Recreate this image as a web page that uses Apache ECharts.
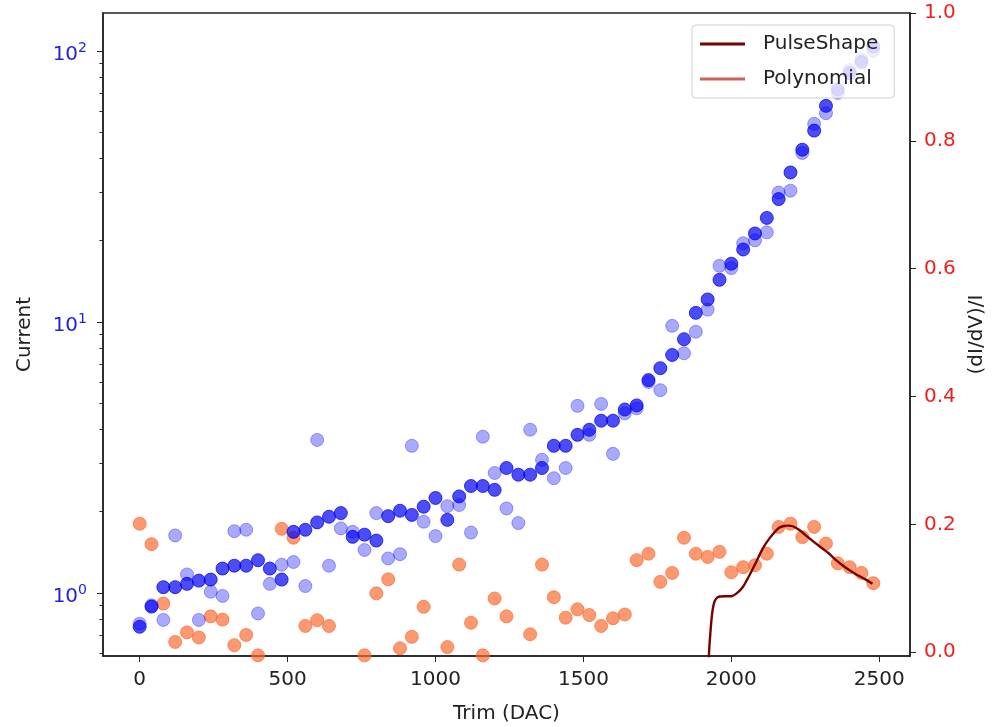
<!DOCTYPE html>
<html>
<head>
<meta charset="utf-8">
<title>Trim scan</title>
<script src="https://cdn.jsdelivr.net/npm/echarts@6.0.0/dist/echarts.min.js"></script>
<style>
  html, body { margin: 0; padding: 0; background: #fff; }
  #chart { width: 1000px; height: 727px; }
</style>
</head>
<body>
<div id="chart"></div>
<script>
// trim DAC settings of the scan
const trim = [0, 40, 80, 120, 160, 200, 240, 280, 320, 360, 400, 440, 480, 520, 560, 600,
  640, 680, 720, 760, 800, 840, 880, 920, 960, 1000, 1040, 1080, 1120, 1160, 1200, 1240,
  1280, 1320, 1360, 1400, 1440, 1480, 1520, 1560, 1600, 1640, 1680, 1720, 1760, 1800, 1840,
  1880, 1920, 1960, 2000, 2040, 2080, 2120, 2160, 2200, 2240, 2280, 2320, 2360, 2400, 2440, 2480];

// current, solid points
const currentMain = [0.75, 0.89, 1.05, 1.05, 1.08, 1.11, 1.12, 1.23, 1.26, 1.26, 1.32, 1.23, 1.12, 1.68, 1.71, 1.82,
  1.91, 1.97, 1.61, 1.64, 1.56, 1.92, 2.01, 1.94, 2.08, 2.24, 1.86, 2.27, 2.48, 2.48, 2.40, 2.89,
  2.73, 2.73, 2.89, 3.49, 3.49, 3.83, 4.0, 4.32, 4.32, 4.75, 4.92, 6.1, 6.75, 7.55, 8.63,
  10.8, 12.1, 14.3, 16.4, 18.5, 21.2, 24.2, 28.4, 35.6, 43.2, 50.8, 62.7, 72, 82.8, 91, 104];

// current, faint points
const currentAlt = [0.77, 0.9, 0.795, 1.63, 1.17, 0.795, 1.01, 0.975, 1.69, 1.71, 0.84, 1.08, 1.27, 1.30, 1.06, 3.67,
  1.26, 1.73, 1.68, 1.44, 1.97, 1.34, 1.39, 3.49, 1.83, 1.62, 2.09, 2.11, 1.67, 3.77, 2.77, 2.05,
  1.81, 4.0, 3.10, 2.65, 2.89, 4.9, 3.83, 4.98, 3.26, 4.6, 4.8, 6.0, 5.6, 9.67, 7.66,
  9.2, 11.1, 16.1, 15.8, 19.5, 20.0, 21.4, 30, 30.5, 42, 53.8, 58.9, 70, 85, 93, 100];

// (dI/dV)/I, null where the point is below the plot
const ratio = [0.201, 0.169, 0.076, 0.016, 0.031, 0.023, 0.056, 0.051, 0.011, 0.027, -0.005, null, 0.193, 0.179, 0.041, 0.05,
  0.041, null, null, -0.005, 0.092, 0.114, 0.006, 0.024, 0.071, null, 0.008, 0.137, 0.046, -0.005, 0.084, 0.056,
  null, 0.028, 0.137, 0.086, 0.054, 0.067, 0.058, 0.041, 0.053, 0.059, 0.144, 0.154, 0.11, 0.124, 0.179,
  0.154, 0.149, 0.157, 0.125, 0.133, 0.136, 0.154, 0.196, 0.201, 0.18, 0.196, 0.17, 0.139, 0.133, 0.124, 0.108];

// PulseShape curve
const pulseTrim = [1921, 1924, 1929, 1935, 1943, 1954, 1977, 1999, 2018, 2039, 2061, 2084, 2106, 2129, 2157,
  2174, 2191, 2208, 2230, 2264, 2297, 2331, 2354, 2387, 2421, 2455, 2477];
const pulseVal = [-0.06, -0.007, 0.029, 0.060, 0.079, 0.086, 0.0875, 0.0875, 0.092, 0.102, 0.120, 0.141, 0.162, 0.178, 0.193,
  0.197, 0.198, 0.197, 0.191, 0.178, 0.166, 0.154, 0.144, 0.132, 0.122, 0.1135, 0.107];

// Polynomial curve (only in the legend)
const polyTrim = [];
const polyVal = [];

// tick labels
const xTicks = [0, 500, 1000, 1500, 2000, 2500];
const leftTicks = [1, 10, 100];
const leftMinor = [0.6, 0.7, 0.8, 0.9, 2, 3, 4, 5, 6, 7, 8, 9, 20, 30, 40, 50, 60, 70, 80, 90];
const rightTicks = [0, 0.2, 0.4, 0.6, 0.8, 1.0];

const FONT = 'DejaVu Sans';
const AXIS = '#222';

function pairs(xs, ys) {
  const out = [];
  xs.forEach((x, i) => {
    if (ys[i] !== null) out.push([x, ys[i]]);
  });
  return out;
}

const chart = echarts.init(document.getElementById('chart'));

chart.setOption({
  animation: false,
  backgroundColor: '#fff',
  grid: {
    left: 103, right: 90, top: 13, bottom: 71,
    outerBoundsMode: 'none',
    show: true, borderColor: AXIS, borderWidth: 1.5
  },
  legend: {
    data: ['PulseShape', 'Polynomial'],
    orient: 'vertical',
    left: 692, top: 25,
    icon: 'rect',
    itemWidth: 45, itemHeight: 3, itemGap: 15,
    padding: [9, 16, 9, 8],
    backgroundColor: 'rgba(255,255,255,0.8)',
    borderColor: '#d0d0d0', borderWidth: 1, borderRadius: 4,
    textStyle: { fontFamily: FONT, fontSize: 20, color: '#222', padding: [0, 0, 0, 13] }
  },
  xAxis: {
    type: 'value',
    min: -124, max: 2604,
    name: 'Trim (DAC)',
    nameLocation: 'middle', nameGap: 48,
    nameTextStyle: { fontFamily: FONT, fontSize: 20, color: '#222' },
    axisLine: { show: true, onZero: false, lineStyle: { color: AXIS, width: 1.5 } },
    axisTick: { show: true, length: 6, customValues: xTicks, lineStyle: { color: AXIS } },
    axisLabel: {
      customValues: xTicks, margin: 14,
      formatter: v => String(v),
      fontFamily: FONT, fontSize: 20, color: '#222'
    },
    splitLine: { show: false }
  },
  yAxis: [{
    // current, log scale
    type: 'log', logBase: 10,
    min: 0.585, max: 138,
    position: 'left',
    name: 'Current',
    nameLocation: 'middle', nameGap: 68, nameRotate: 90,
    nameTextStyle: { fontFamily: FONT, fontSize: 20, color: '#222' },
    axisLine: { show: true, onZero: false, lineStyle: { color: AXIS, width: 1.5 } },
    axisTick: { show: true, length: 6, customValues: leftTicks, lineStyle: { color: AXIS } },
    axisLabel: {
      customValues: leftTicks,
      margin: 16,
      padding: [7, 0, 0, 0],
      formatter: v => '{b|10}{s|' + Math.round(Math.log10(v)) + '}',
      rich: {
        b: { fontFamily: FONT, fontSize: 20, color: '#1f1fe0' },
        s: { fontFamily: FONT, fontSize: 14, color: '#1f1fe0', padding: [0, 0, 12, 0] }
      }
    },
    splitLine: { show: false }
  }, {
    // minor ticks of the log axis
    type: 'log', logBase: 10,
    min: 0.585, max: 138,
    position: 'left',
    axisLine: { show: false, onZero: false },
    axisTick: { show: true, length: 3.5, customValues: leftMinor, lineStyle: { color: AXIS } },
    axisLabel: { show: false },
    splitLine: { show: false }
  }, {
    // (dI/dV)/I
    type: 'value',
    min: -0.006, max: 1.0,
    position: 'right',
    name: '(dI/dV)/I',
    nameLocation: 'middle', nameGap: 57, nameRotate: 90,
    nameTextStyle: { fontFamily: FONT, fontSize: 20, color: '#222' },
    axisLine: { show: true, onZero: false, lineStyle: { color: AXIS, width: 1.5 } },
    axisTick: { show: true, length: 6, customValues: rightTicks, lineStyle: { color: AXIS } },
    axisLabel: {
      customValues: rightTicks, margin: 14,
      formatter: v => v.toFixed(1),
      fontFamily: FONT, fontSize: 20, color: '#f02020'
    },
    splitLine: { show: false }
  }],
  series: [{
    name: 'ratio',
    type: 'scatter',
    yAxisIndex: 2,
    symbolSize: 13,
    itemStyle: { color: 'rgba(250,105,45,0.85)', borderColor: 'rgba(250,105,45,0.85)', borderWidth: 1 },
    data: pairs(trim, ratio)
  }, {
    name: 'currentAlt',
    type: 'scatter',
    yAxisIndex: 0,
    symbolSize: 13,
    itemStyle: { color: 'rgba(0,0,255,0.42)', borderColor: 'rgba(0,0,255,0.42)', borderWidth: 1 },
    data: pairs(trim, currentAlt)
  }, {
    name: 'currentMain',
    type: 'scatter',
    yAxisIndex: 0,
    symbolSize: 13,
    itemStyle: { color: 'rgba(0,0,245,0.88)', borderColor: 'rgba(0,0,230,0.9)', borderWidth: 1 },
    data: pairs(trim, currentMain)
  }, {
    name: 'PulseShape',
    type: 'line',
    yAxisIndex: 2,
    smooth: 0.2,
    showSymbol: false,
    lineStyle: { color: '#7a0000', width: 2.4 },
    itemStyle: { color: '#7a0000' },
    data: pairs(pulseTrim, pulseVal)
  }, {
    name: 'Polynomial',
    type: 'line',
    yAxisIndex: 2,
    showSymbol: false,
    lineStyle: { color: '#d0605a', width: 2 },
    itemStyle: { color: '#d0605a' },
    data: pairs(polyTrim, polyVal)
  }]
});
</script>
</body>
</html>
